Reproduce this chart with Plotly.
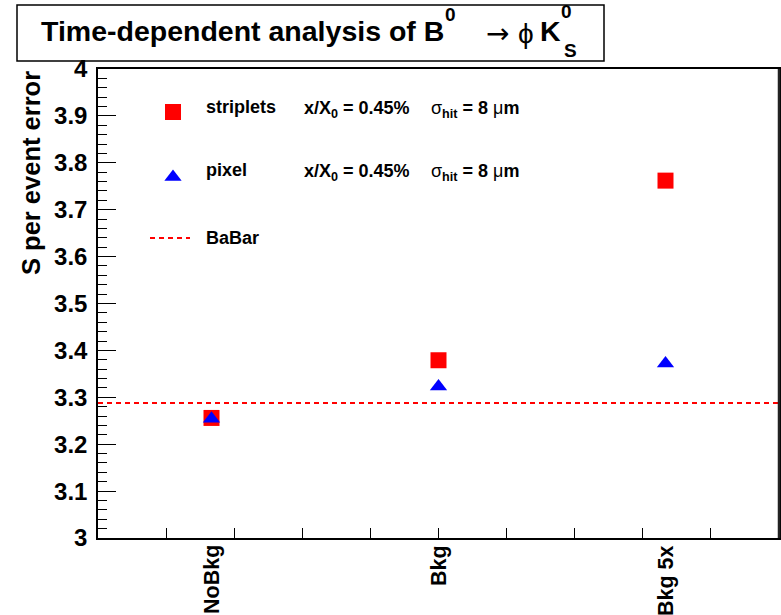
import plotly.graph_objects as go

# ---------------- data ----------------
categories = ["NoBkg", "Bkg", "Bkg 5x"]
cat_pos = [0.5, 1.5, 2.5]
striplets = [3.256, 3.379, 3.762]
pixel = [3.254, 3.323, 3.372]
babar = 3.288
y_ticks = [3.0, 3.1, 3.2, 3.3, 3.4, 3.5, 3.6, 3.7, 3.8, 3.9, 4.0]
x_ticks = [0.3, 0.6, 0.9, 1.2, 1.5, 1.8, 2.1, 2.4, 2.7]

# ---------------- geometry helpers (pixel -> paper) ----------------
L, R, T, B = 98, 779, 69, 538
W, H = R - L, B - T
def px(x):
    return (x - L) / W
def py(y):
    return (B - y) / H

FONT = "Liberation Sans"
RED = "#ff0000"
BLUE = "#0000ff"

fig = go.Figure()

# BaBar reference line
fig.add_trace(go.Scatter(x=[0, 3], y=[babar, babar], mode="lines",
                         line=dict(color=RED, width=2, dash="5px,4px"),
                         showlegend=False, hoverinfo="skip"))
fig.add_trace(go.Scatter(x=cat_pos, y=striplets, mode="markers",
                         marker=dict(symbol="square", size=16, color=RED),
                         showlegend=False))
fig.add_trace(go.Scatter(x=cat_pos, y=pixel, mode="markers",
                         marker=dict(symbol="triangle-up", size=15, color=BLUE),
                         showlegend=False))

# legend keys on an invisible overlay axis pair (0..1 = plot area)
fig.add_trace(go.Scatter(x=[px(173)], y=[py(112)], xaxis="x2", yaxis="y2", mode="markers",
                         marker=dict(symbol="square", size=16, color=RED),
                         showlegend=False, hoverinfo="skip"))
fig.add_trace(go.Scatter(x=[px(173)], y=[py(177)], xaxis="x2", yaxis="y2", mode="markers",
                         marker=dict(symbol="triangle-up", size=15, color=BLUE),
                         showlegend=False, hoverinfo="skip"))
fig.add_trace(go.Scatter(x=[px(150), px(190)], y=[py(238), py(238)], xaxis="x2", yaxis="y2",
                         mode="lines", line=dict(color=RED, width=2, dash="5px,4px"),
                         showlegend=False, hoverinfo="skip"))

annotations = []
def txt(text, x, y, size, xanchor="left", yanchor="middle", angle=0, weight="bold", family=FONT):
    annotations.append(dict(text=text, x=x, y=y, xref="paper", yref="paper",
                            xanchor=xanchor, yanchor=yanchor, showarrow=False,
                            textangle=angle,
                            font=dict(family=family, size=size, color="black", weight=weight)))

# legend texts
LEG = 18
txt("striplets", px(204), py(107), LEG)
txt("x/X<sub>0</sub> = 0.45%", px(302), py(109), LEG)
txt("<span style='font-weight:normal'>σ</span><sub>hit</sub> = 8 <span style='font-weight:normal'>μ</span>m",
    px(429), py(109), LEG)
txt("pixel", px(204), py(170), LEG)
txt("x/X<sub>0</sub> = 0.45%", px(302), py(172), LEG)
txt("<span style='font-weight:normal'>σ</span><sub>hit</sub> = 8 <span style='font-weight:normal'>μ</span>m",
    px(429), py(172), LEG)
txt("BaBar", px(204), py(238), LEG)

# category labels (rotated)
for c, p in zip(categories, cat_pos):
    annotations.append(dict(text=c, x=p, y=py(543), xref="x", yref="paper",
                            xanchor="center", yanchor="top", showarrow=False,
                            textangle=-90,
                            font=dict(family=FONT, size=21.5, color="black", weight="bold")))

# y-axis title
txt("S per event error", px(31), py(69), 25.5, xanchor="center", yanchor="top", angle=-90)

# title pieces
txt("Time-dependent analysis of B", px(39), py(31), 28.5)
txt("0", px(450), py(14), 19, xanchor="center")
txt("→", px(497), py(33), 28, xanchor="center", weight="normal", family="DejaVu Sans")
txt("ϕ", px(526), py(33), 28, xanchor="center", weight="normal")
txt("K", px(538), py(31), 28.5)
txt("0", px(566), py(12), 19, xanchor="center")
txt("S", px(570), py(51), 19, xanchor="center")

shapes = [
    dict(type="rect", xref="paper", yref="paper", x0=px(17), x1=px(604), y0=py(61), y1=py(5),
         line=dict(color="black", width=1.5), fillcolor="white", layer="below"),
    dict(type="line", xref="paper", yref="paper", x0=1, x1=1, y0=0, y1=1,
         line=dict(color="#222222", width=2.5)),
]

fig.update_layout(
    width=781, height=615,
    margin=dict(l=L, r=781 - R, t=T, b=615 - B, autoexpand=False),
    paper_bgcolor="white", plot_bgcolor="white",
    showlegend=False,
    font=dict(family=FONT, color="black"),
    annotations=annotations,
    shapes=shapes,
    xaxis=dict(range=[0, 3], tickvals=x_ticks, ticktext=[""] * len(x_ticks),
               ticks="inside", ticklen=10, tickwidth=1, tickcolor="black",
               showgrid=False, zeroline=False, showline=True, linecolor="black",
               linewidth=1.5, mirror=True, fixedrange=True),
    yaxis=dict(range=[3, 4], tickvals=y_ticks,
               ticktext=[f"{v:g}" for v in y_ticks],
               ticks="inside", ticklen=18, tickwidth=1, tickcolor="black",
               tickfont=dict(family=FONT, size=24, color="black", weight="bold"),
               ticklabelstandoff=4,
               minor=dict(ticks="inside", ticklen=9, dtick=0.02, tickcolor="black", tickwidth=1),
               showgrid=False, zeroline=False, showline=True, linecolor="black",
               linewidth=1.5, mirror=True, fixedrange=True),
    xaxis2=dict(range=[0, 1], overlaying="x", visible=False, fixedrange=True),
    yaxis2=dict(range=[0, 1], overlaying="y", visible=False, fixedrange=True),
)

fig.write_html("out.html", config={"displayModeBar": False},
               post_script="document.body.style.margin='0px';")
